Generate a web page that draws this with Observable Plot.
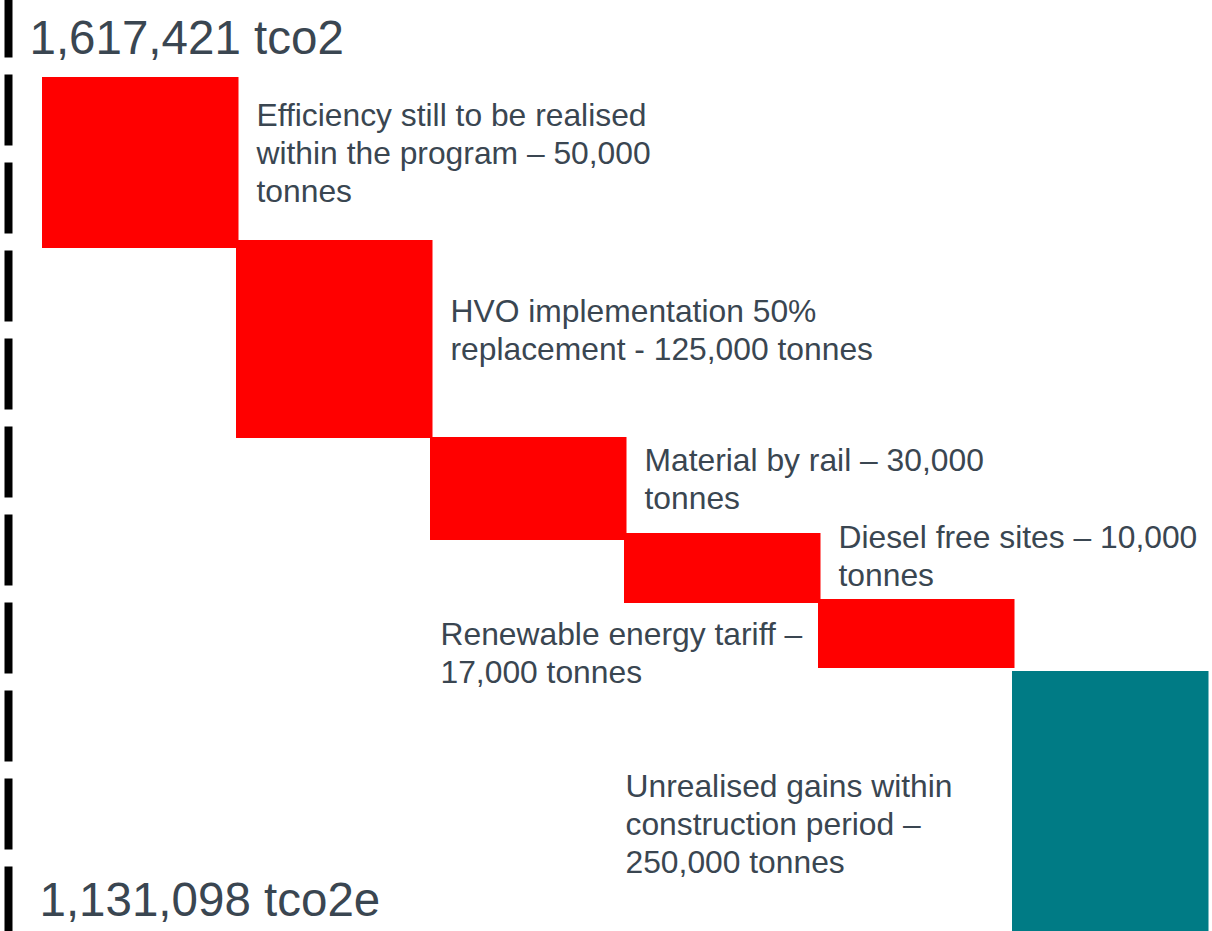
<!DOCTYPE html>
<html>
<head>
<meta charset="utf-8">
<script src="https://cdn.jsdelivr.net/npm/d3@7"></script>
<script src="https://cdn.jsdelivr.net/npm/@observablehq/plot@0.6"></script>
<style>
  html, body { margin: 0; padding: 0; background: #fff; }
  svg text { font-family: "Liberation Sans", Arial, sans-serif; }
</style>
</head>
<body>
<div id="chart"></div>
<script>
// ---- data (levels, in the chart's own relative units) ----
const steps = ["Efficiency", "HVO", "Rail", "Diesel free", "Renewable tariff", "Unrealised gains"];
const stepTop = [854, 691, 494, 398, 332, 260];
const stepBottom = [683, 493, 391, 328, 263, 0];
const stepKind = ["saving", "saving", "saving", "saving", "saving", "unrealised"];
const stepLabels = [
  "Efficiency still to be realised\nwithin the program – 50,000\ntonnes",
  "HVO implementation 50%\nreplacement - 125,000 tonnes",
  "Material by rail – 30,000\ntonnes",
  "Diesel free sites – 10,000\ntonnes",
  "Renewable energy tariff –\n17,000 tonnes",
  "Unrealised gains within\nconstruction period –\n250,000 tonnes"
];
const startTotal = 1617421;
const endTotal = 1131098;
const kinds = ["saving", "unrealised"];
const kindColors = ["#ff0000", "#007b85"];

const data = steps.map((s, i) => ({
  step: s, top: stepTop[i], bottom: stepBottom[i], kind: stepKind[i], label: stepLabels[i]
}));

const textColor = "#3a4651";
const fmt = d3.format(",");
const labelFont = 31.8;

// label placement relative to each bar (style, not data)
const labelPlacement = [
  { dx: 117, dy: -11 },
  { dx: 117, dy: -11 },
  { dx: 117, dy: -11 },
  { dx: 117, dy: -14 },
  { dx: -475, dy: 18 },
  { dx: -484, dy: 21 }
];

const labelMarks = data.map((d, i) => Plot.text([d], {
  x: "step", y: r => (r.top + r.bottom) / 2, text: "label",
  textAnchor: "start", lineAnchor: "middle", lineHeight: 1.2,
  dx: labelPlacement[i].dx, dy: labelPlacement[i].dy,
  fontSize: labelFont, fill: textColor
}));

const chart = Plot.plot({
  width: 1212,
  height: 931,
  marginLeft: 40,
  marginRight: 5,
  marginTop: 0,
  marginBottom: 0,
  style: { fontFamily: "Liberation Sans, Arial, sans-serif", background: "#fff" },
  x: { domain: steps, padding: 0, axis: null },
  y: { domain: [0, 931], axis: null },
  color: { domain: kinds, range: kindColors },
  marks: [
    Plot.frame({ anchor: "left", stroke: "#000", strokeWidth: 8, strokeDasharray: "63,25", strokeDashoffset: 10, dx: -32 }),
    Plot.barY(data, { x: "step", y1: "bottom", y2: "top", fill: "kind", insetLeft: 0, insetRight: -2.5 }),
    ...labelMarks,
    Plot.text([fmt(startTotal) + " tco2"], {
      frameAnchor: "top-left", text: d => d, textAnchor: "start", lineAnchor: "top",
      lineHeight: 1, dx: -11, dy: 19.5, fontSize: 47.5, fill: textColor
    }),
    Plot.text([fmt(endTotal) + " tco2e"], {
      frameAnchor: "bottom-left", text: d => d, textAnchor: "start", lineAnchor: "bottom",
      lineHeight: 1, dx: -1, dy: -16, fontSize: 47.5, fill: textColor
    })
  ]
});
document.getElementById("chart").appendChild(chart);
</script>
</body>
</html>
